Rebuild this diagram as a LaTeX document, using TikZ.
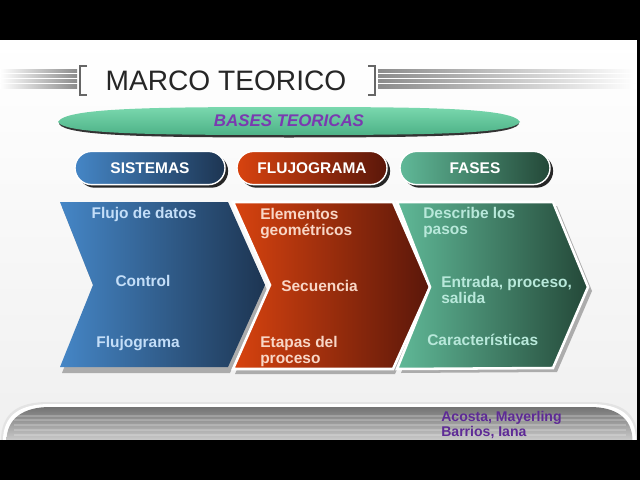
\documentclass[tikz,border=0pt]{standalone}
\usepackage{fontspec}
\setmainfont{Liberation Sans}
\usetikzlibrary{shapes.misc,shadows}
\definecolor{blueL}{HTML}{4586C6}
\definecolor{blueR}{HTML}{1D3552}
\definecolor{redL}{HTML}{D8430F}
\definecolor{redR}{HTML}{5A170A}
\definecolor{greenL}{HTML}{60B998}
\definecolor{greenR}{HTML}{244838}
\definecolor{basesTop}{HTML}{7AD8AE}
\definecolor{basesBot}{HTML}{4DB287}
\definecolor{basesText}{HTML}{7A3AB0}
\definecolor{authorText}{HTML}{5E2A96}
\definecolor{blueTxt}{HTML}{C4DEF8}
\definecolor{redTxt}{HTML}{F8D6C6}
\definecolor{greenTxt}{HTML}{B8E8DA}
\definecolor{stripe}{HTML}{8C8C8C}
\begin{document}
\begin{tikzpicture}[x=0.025cm,y=-0.025cm,
  pillbox/.style={rounded rectangle, minimum width=3.75cm, minimum height=0.83cm, inner sep=0pt,
    draw=white, line width=1pt, font=\bfseries\fontsize{11}{13}\selectfont, text=white,
    drop shadow={shadow xshift=2.2pt, shadow yshift=-2.2pt, fill=black!85, opacity=1}},
  chevtext/.style={font=\bfseries\fontsize{11}{11.4}\selectfont, align=left, inner sep=0pt},
  chevshadow/.style={fill=gray!65}
]
\useasboundingbox (0,0) rectangle (640,480);
% background
\shade[top color=white, bottom color=gray!12] (0,40) rectangle (637,440);
% stripes
\foreach \yy in {69,74,79,84.5}{
  \shade[left color=white, right color=stripe] (0,\yy) rectangle (77,\yy+3.6);
  \shade[left color=stripe, right color=white] (378,\yy) rectangle (636,\yy+3.6);
}
% brackets
\draw[gray!80!black, line width=1pt] (87,66) -- (80,66) -- (80,95) -- (87,95);
\draw[gray!80!black, line width=1pt] (368,66) -- (375,66) -- (375,95) -- (368,95);
\node[font=\fontsize{20}{24}\selectfont, text=black!85, inner sep=0pt] (title) at (226,81) {MARCO TEORICO};
% bases teoricas (lens-like pill)
\fill[gray!40!black] (59,124) .. controls (66,111) and (150,109.5) .. (289,109.5) .. controls (430,109.5) and (512,111) .. (519,124) .. controls (512,136) and (430,137.5) .. (289,137.5) .. controls (150,137.5) and (66,136) .. (59,124) -- cycle;
\shade[top color=basesTop, bottom color=basesBot] (58,122) .. controls (65,108) and (150,107) .. (289,107) .. controls (430,107) and (513,108) .. (520,122) .. controls (513,134) and (430,135) .. (289,135) .. controls (150,135) and (65,134) .. (58,122) -- cycle;
\node[font=\bfseries\itshape\fontsize{12}{14}\selectfont, text=basesText, inner sep=0pt] (bases) at (289,121) {BASES TEORICAS};
% pills
\node[pillbox, left color=blueL, right color=blueR] (sistemas) at (150,168) {SISTEMAS};
\node[pillbox, left color=redL, right color=redR] (flujograma) at (312,168) {FLUJOGRAMA};
\node[pillbox, left color=greenL, right color=greenR] (fases) at (475,168) {FASES};
% chevrons
\fill[chevshadow] (62,207) -- (230,207) -- (267,290) -- (230,373) -- (62,373) -- (95,290) -- cycle;
\shade[left color=blueL, right color=blueR] (60,202) -- (228,202) -- (265,285) -- (228,367) -- (60,367) -- (93,285) -- cycle;
\fill[chevshadow] (235,206) -- (395,206) -- (432,291) -- (395,374) -- (235,374) -- (272,290) -- cycle;
\shade[left color=redL, right color=redR, draw=white, line width=1.8pt] (233,202) -- (393,202) -- (430,287) -- (393,369) -- (233,369) -- (270,285) -- cycle;
\fill[chevshadow] (401,206) -- (557,206) -- (592,291) -- (557,372) -- (401,373) -- (434,291) -- cycle;
\shade[left color=greenL, right color=greenR, draw=white, line width=1.8pt] (397,202) -- (553,202) -- (588,287) -- (553,368) -- (397,369) -- (430,287) -- cycle;
% blue texts
\node[chevtext, text=blueTxt] (b1) at (144,214.5) {Flujo de datos};
\node[chevtext, text=blueTxt] (b2) at (143,280.5) {Control};
\node[chevtext, text=blueTxt] (b3) at (138,343.5) {Flujograma};
% red texts
\node[chevtext, text=redTxt, anchor=west] (r1) at (260,223.5) {Elementos\\geométricos};
\node[chevtext, text=redTxt, anchor=west] (r2) at (281,285.5) {Secuencia};
\node[chevtext, text=redTxt, anchor=west] (r3) at (260,351.5) {Etapas del\\proceso};
% green texts
\node[chevtext, text=greenTxt, anchor=west] (g1) at (423,222.5) {Describe los\\pasos};
\node[chevtext, text=greenTxt, anchor=west] (g2) at (441,289.5) {Entrada, proceso,\\salida};
\node[chevtext, text=greenTxt, anchor=west] (g3) at (427,339.5) {Características};
% bottom bar
\fill[gray!22] (1,441) .. controls (1,413) and (18,402) .. (48,402) -- (592,402) .. controls (622,402) and (638,413) .. (638,441) -- cycle;
\fill[white] (3,441) .. controls (3,415) and (20,404) .. (50,404) -- (590,404) .. controls (620,404) and (636,415) .. (636,441) -- cycle;
\shade[top color=gray!90!black, bottom color=gray!40] (6.5,441) .. controls (6.5,418) and (24,407) .. (50,407) -- (590,407) .. controls (616,407) and (632.5,418) .. (632.5,441) -- cycle;
\foreach \yy in {415,419,424,429,434}{
  \fill[white, opacity=0.2] (14,\yy) rectangle (626,\yy+1.6);
}
\node[anchor=west, align=left, inner sep=0pt, font=\bfseries\fontsize{10}{10}\selectfont, text=authorText] (authors) at (441,425) {Acosta, Mayerling\\Barrios, Iana};
% black bands
\fill[black] (0,0) rectangle (640,40);
\fill[black] (0,440) rectangle (640,480);
\fill[black] (637,40) rectangle (640,440);
\end{tikzpicture}
\end{document}
